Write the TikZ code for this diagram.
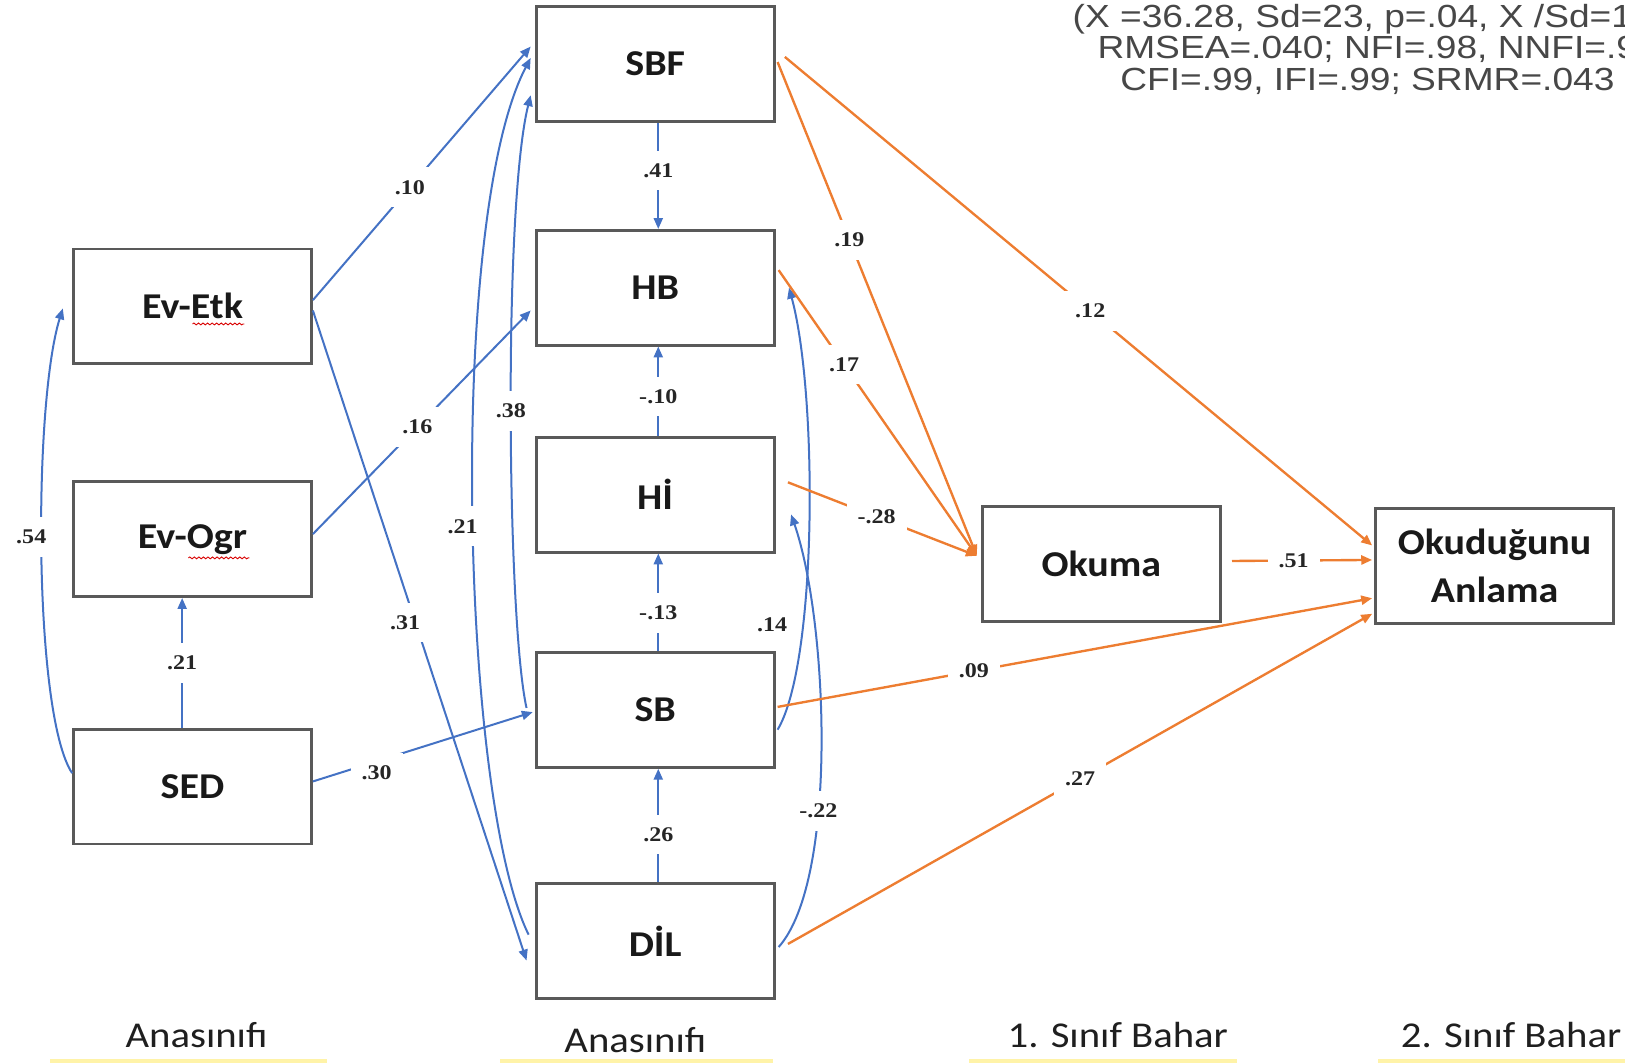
\documentclass[tikz,border=0pt]{standalone}
\usepackage{fontspec}
\setmainfont{Carlito}
\newfontfamily\boxfont[FakeStretch=1.1]{Carlito}
\newfontfamily\perfont[FakeStretch=1.12]{Carlito}
\newfontfamily\lblfont[FakeStretch=1.15]{Liberation Serif}
\newfontfamily\fitfont[FakeStretch=1.16]{Liberation Sans}
\usetikzlibrary{arrows.meta,calc,decorations.pathmorphing}
\definecolor{pblue}{HTML}{4472C4}
\definecolor{porange}{HTML}{ED7D31}
\definecolor{boxgray}{HTML}{595959}
\definecolor{hlyellow}{HTML}{FFF3A8}
\begin{document}
\begin{tikzpicture}[x=0.02cm,y=-0.02cm,
  var/.style={draw=boxgray, line width=1.5pt, fill=white, minimum width=4.6cm, minimum height=2.22cm, inner sep=0pt, text=black!90, font=\boxfont\bfseries\fontsize{20}{26.5}\selectfont, align=center},
  bpath/.style={draw=pblue, line width=1.1pt, -{Triangle[length=6pt,width=5pt]}},
  opath/.style={draw=porange, line width=1.3pt, -{Triangle[length=6pt,width=5pt]}},
  lbl/.style={fill=white, inner xsep=6pt, inner ysep=7pt, font=\lblfont\bfseries\fontsize{11.5}{13}\selectfont, text=black!85},
  period/.style={font=\perfont\fontsize{20}{22}\selectfont, inner sep=0pt, anchor=base, text=black!88},
  fitline/.style={font=\fitfont\fontsize{17.6}{20}\selectfont, inner sep=0pt, anchor=base west, text=black!72},
  squig/.style={draw=red!85!black, line width=0.5pt, decorate, decoration={snake, amplitude=0.5pt, segment length=2.5pt}},
]
\useasboundingbox (0,0) rectangle (1570,1027);

% highlight remnants at the bottom edge
\fill[hlyellow] (48,1023) rectangle (316,1027);
\fill[hlyellow] (483,1023) rectangle (747,1027);
\fill[hlyellow] (936,1023) rectangle (1195,1027);
\fill[hlyellow] (1331,1023) rectangle (1570,1027);

% boxes
\node[var] (SBF) at (633,62) {SBF};
\node[var] (HB) at (633,278) {HB};
\node[var] (HI) at (633,478) {Hİ};
\node[var] (SB) at (633,686) {SB};
\node[var] (DIL) at (633,909) {DİL};
\node[var] (EvEtk) at (186,296) {Ev-Etk};
\node[var] (EvOgr) at (186,521) {Ev-Ogr};
\node[var] (SED) at (186,760) {SED};
\node[var] (Okuma) at (1064,545) {Okuma};
\node[var] (Anlama) at (1444,547) {Okuduğunu\\Anlama};

% spell-check squiggles
\draw[squig] (186,313) -- (236,313);
\draw[squig] (182,539) -- (241,539);

% blue paths
\draw[bpath] ($(SED.north)+(-10,0)$) -- ($(EvOgr.south)+(-10,0)$) node[lbl,pos=0.5]{.21};
\draw[bpath] ($(SED.west)+(0,-13)$) .. controls (32,690) and (32,390) .. ($(EvEtk.west)+(-9,2)$) node[lbl,pos=0.53,xshift=-0.2cm]{.54};
\draw[bpath] ($(SED.east)+(0,-5)$) -- ($(SB.west)+(-2,2)$) node[lbl,pos=0.29,yshift=-0.22cm]{.30};
\draw[bpath] ($(EvEtk.east)+(0,-6)$) -- ($(SBF.west)+(-4,-17)$) node[lbl,pos=0.445]{.10};
\draw[bpath] ($(EvEtk.east)+(0,4)$) -- ($(DIL.west)+(-8,19)$) node[lbl,pos=0.48,xshift=-0.2cm]{.31};
\draw[bpath] ($(EvOgr.east)+(0,-5)$) -- ($(HB.west)+(-4,22)$) node[lbl,pos=0.48]{.16};
\draw[bpath] ($(DIL.west)+(-6,-6)$) .. controls (445,770) and (432,210) .. ($(SBF.west)+(-4,-6)$) node[lbl,pos=0.48,xshift=-0.2cm]{.21};
\draw[bpath] ($(SB.west)+(-8,-2)$) .. controls (490,600) and (486,200) .. ($(SBF.west)+(-4,30)$) node[lbl,pos=0.5]{.38};

\draw[bpath] ($(SBF.south)+(3,0)$) -- ($(HB.north)+(3,0)$) node[lbl,pos=0.45]{.41};
\draw[bpath] ($(HI.north)+(3,0)$) -- ($(HB.south)+(3,0)$) node[lbl,pos=0.44]{-.10};
\draw[bpath] ($(SB.north)+(3,0)$) -- ($(HI.south)+(3,0)$) node[lbl,pos=0.39]{-.13};
\draw[bpath] ($(DIL.north)+(3,0)$) -- ($(SB.south)+(3,0)$) node[lbl,pos=0.42]{.26};

\draw[bpath] ($(SB.east)+(2,19)$) .. controls (790,640) and (790,380) .. ($(HB.east)+(13,0)$) node[lbl,pos=0.3,xshift=-0.6cm]{.14};
\draw[bpath] ($(DIL.east)+(3,6)$) .. controls (810,850) and (800,600) .. ($(HI.east)+(15,19)$) node[lbl,pos=0.37]{-.22};

% orange paths
\draw[opath] ($(SBF.east)+(2,-2)$) -- ($(Okuma.west)+(-4,-8)$) node[lbl,pos=0.36]{.19};
\draw[opath] ($(SBF.east)+(9,-7)$) -- ($(Anlama.west)+(-2,-20)$) node[lbl,pos=0.52]{.12};
\draw[opath] ($(HB.east)+(3,-17)$) -- ($(Okuma.west)+(-4,-8)$) node[lbl,pos=0.33]{.17};
\draw[opath] ($(HI.east)+(12,-12)$) -- ($(Okuma.west)+(-4,-8)$) node[lbl,pos=0.47]{-.28};
\draw[opath] ($(Okuma.east)+(10,-3)$) -- ($(Anlama.west)+(-2,-6)$) node[lbl,pos=0.44]{.51};
\draw[opath] ($(SB.east)+(2,-3)$) -- ($(Anlama.west)+(-2,31)$) node[lbl,pos=0.33]{.09};
\draw[opath] ($(DIL.east)+(12,3)$) -- ($(Anlama.west)+(-2,46)$) node[lbl,pos=0.5]{.27};

% fit indices (cut off at the right edge, as in the source)
\node[fitline] (fit1) at (1036,27) {(X =36.28, Sd=23, p=.04, X /Sd=1};
\node[fitline] (fit2) at (1060,57) {RMSEA=.040; NFI=.98, NNFI=.9};
\node[fitline] (fit3) at (1082,87) {CFI=.99, IFI=.99; SRMR=.043};

% period labels
\node[period] (p1) at (190,1012) {Anasınıfı};
\node[period] (p2) at (614,1017) {Anasınıfı};
\node[period] (p3) at (1080,1012) {1. Sınıf Bahar};
\node[period] (p4) at (1460,1012) {2. Sınıf Bahar};
\end{tikzpicture}
\end{document}
